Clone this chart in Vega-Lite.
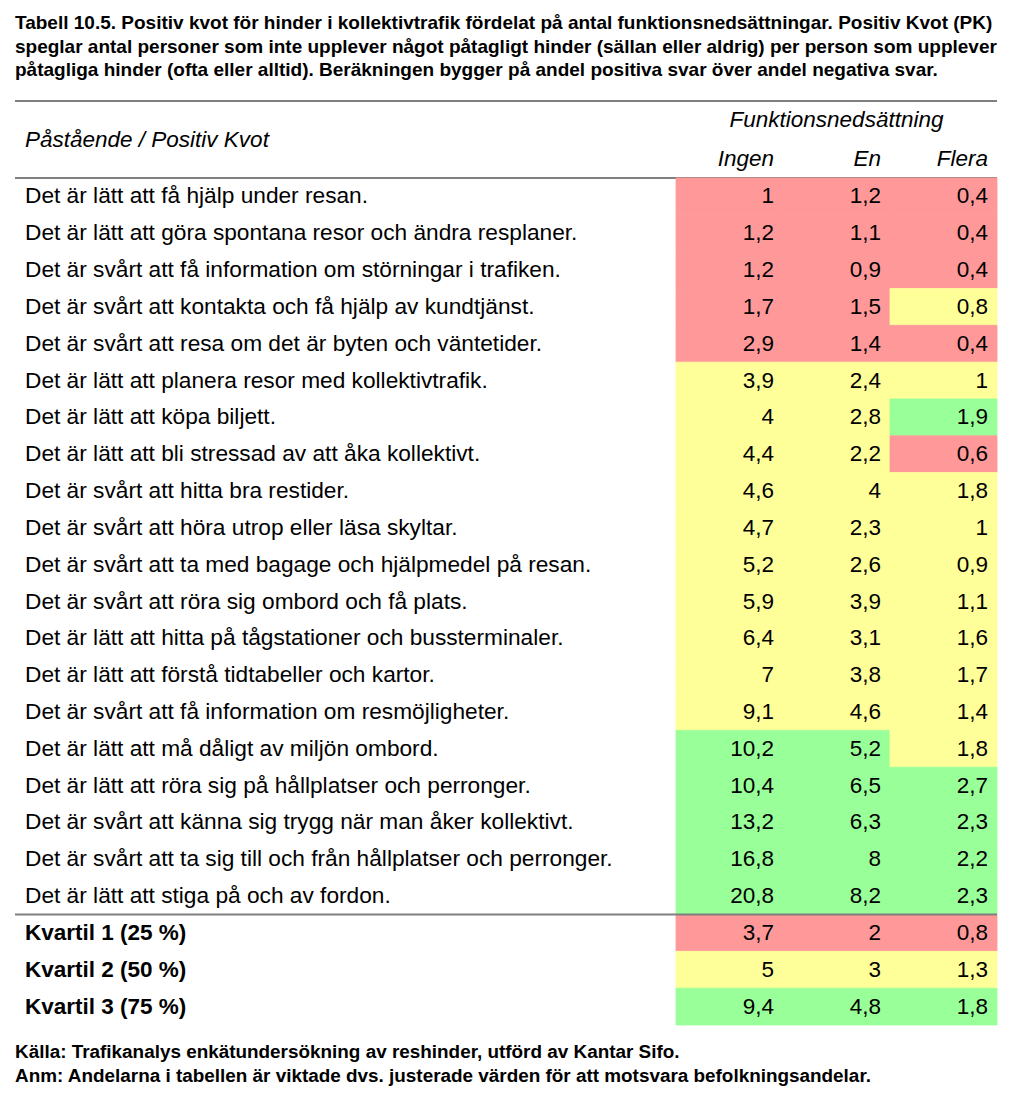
{
  "$schema": "https://vega.github.io/schema/vega-lite/v6.json",
  "width": 1024,
  "height": 1108,
  "autosize": {"type": "none"},
  "padding": 0,
  "background": "white",
  "config": {
    "view": {"stroke": null},
    "locale": {"number": {"decimal": ",", "thousands": "\u00a0", "grouping": [3], "currency": ["", " kr"]}},
    "text": {"font": "Liberation Sans", "color": "#000000"}
  },
  "datasets": {
    "rubrik": [
      {"rad": "Tabell 10.5. Positiv kvot för hinder i kollektivtrafik fördelat på antal funktionsnedsättningar. Positiv Kvot (PK)"},
      {"rad": "speglar antal personer som inte upplever något påtagligt hinder (sällan eller aldrig) per person som upplever"},
      {"rad": "påtagliga hinder (ofta eller alltid). Beräkningen bygger på andel positiva svar över andel negativa svar."}
    ],
    "fot": [
      {"rad": "Källa: Trafikanalys enkätundersökning av reshinder, utförd av Kantar Sifo."},
      {"rad": "Anm: Andelarna i tabellen är viktade dvs. justerade värden för att motsvara befolkningsandelar."}
    ],
    "huvud": [
      {"nivå": "övre", "kol": "En", "text": "Funktionsnedsättning"},
      {"nivå": "nedre", "kol": "Ingen", "text": "Ingen"},
      {"nivå": "nedre", "kol": "En", "text": "En"},
      {"nivå": "nedre", "kol": "Flera", "text": "Flera"}
    ],
    "celler": [
      {"p": "Det är lätt att få hjälp under resan.", "kol": "Ingen", "pk": 1, "klass": "låg"},
      {"p": "Det är lätt att få hjälp under resan.", "kol": "En", "pk": 1.2, "klass": "låg"},
      {"p": "Det är lätt att få hjälp under resan.", "kol": "Flera", "pk": 0.4, "klass": "låg"},
      {"p": "Det är lätt att göra spontana resor och ändra resplaner.", "kol": "Ingen", "pk": 1.2, "klass": "låg"},
      {"p": "Det är lätt att göra spontana resor och ändra resplaner.", "kol": "En", "pk": 1.1, "klass": "låg"},
      {"p": "Det är lätt att göra spontana resor och ändra resplaner.", "kol": "Flera", "pk": 0.4, "klass": "låg"},
      {"p": "Det är svårt att få information om störningar i trafiken.", "kol": "Ingen", "pk": 1.2, "klass": "låg"},
      {"p": "Det är svårt att få information om störningar i trafiken.", "kol": "En", "pk": 0.9, "klass": "låg"},
      {"p": "Det är svårt att få information om störningar i trafiken.", "kol": "Flera", "pk": 0.4, "klass": "låg"},
      {"p": "Det är svårt att kontakta och få hjälp av kundtjänst.", "kol": "Ingen", "pk": 1.7, "klass": "låg"},
      {"p": "Det är svårt att kontakta och få hjälp av kundtjänst.", "kol": "En", "pk": 1.5, "klass": "låg"},
      {"p": "Det är svårt att kontakta och få hjälp av kundtjänst.", "kol": "Flera", "pk": 0.8, "klass": "mellan"},
      {"p": "Det är svårt att resa om det är byten och väntetider.", "kol": "Ingen", "pk": 2.9, "klass": "låg"},
      {"p": "Det är svårt att resa om det är byten och väntetider.", "kol": "En", "pk": 1.4, "klass": "låg"},
      {"p": "Det är svårt att resa om det är byten och väntetider.", "kol": "Flera", "pk": 0.4, "klass": "låg"},
      {"p": "Det är lätt att planera resor med kollektivtrafik.", "kol": "Ingen", "pk": 3.9, "klass": "mellan"},
      {"p": "Det är lätt att planera resor med kollektivtrafik.", "kol": "En", "pk": 2.4, "klass": "mellan"},
      {"p": "Det är lätt att planera resor med kollektivtrafik.", "kol": "Flera", "pk": 1, "klass": "mellan"},
      {"p": "Det är lätt att köpa biljett.", "kol": "Ingen", "pk": 4, "klass": "mellan"},
      {"p": "Det är lätt att köpa biljett.", "kol": "En", "pk": 2.8, "klass": "mellan"},
      {"p": "Det är lätt att köpa biljett.", "kol": "Flera", "pk": 1.9, "klass": "hög"},
      {"p": "Det är lätt att bli stressad av att åka kollektivt.", "kol": "Ingen", "pk": 4.4, "klass": "mellan"},
      {"p": "Det är lätt att bli stressad av att åka kollektivt.", "kol": "En", "pk": 2.2, "klass": "mellan"},
      {"p": "Det är lätt att bli stressad av att åka kollektivt.", "kol": "Flera", "pk": 0.6, "klass": "låg"},
      {"p": "Det är svårt att hitta bra restider.", "kol": "Ingen", "pk": 4.6, "klass": "mellan"},
      {"p": "Det är svårt att hitta bra restider.", "kol": "En", "pk": 4, "klass": "mellan"},
      {"p": "Det är svårt att hitta bra restider.", "kol": "Flera", "pk": 1.8, "klass": "mellan"},
      {"p": "Det är svårt att höra utrop eller läsa skyltar.", "kol": "Ingen", "pk": 4.7, "klass": "mellan"},
      {"p": "Det är svårt att höra utrop eller läsa skyltar.", "kol": "En", "pk": 2.3, "klass": "mellan"},
      {"p": "Det är svårt att höra utrop eller läsa skyltar.", "kol": "Flera", "pk": 1, "klass": "mellan"},
      {"p": "Det är svårt att ta med bagage och hjälpmedel på resan.", "kol": "Ingen", "pk": 5.2, "klass": "mellan"},
      {"p": "Det är svårt att ta med bagage och hjälpmedel på resan.", "kol": "En", "pk": 2.6, "klass": "mellan"},
      {"p": "Det är svårt att ta med bagage och hjälpmedel på resan.", "kol": "Flera", "pk": 0.9, "klass": "mellan"},
      {"p": "Det är svårt att röra sig ombord och få plats.", "kol": "Ingen", "pk": 5.9, "klass": "mellan"},
      {"p": "Det är svårt att röra sig ombord och få plats.", "kol": "En", "pk": 3.9, "klass": "mellan"},
      {"p": "Det är svårt att röra sig ombord och få plats.", "kol": "Flera", "pk": 1.1, "klass": "mellan"},
      {"p": "Det är lätt att hitta på tågstationer och bussterminaler.", "kol": "Ingen", "pk": 6.4, "klass": "mellan"},
      {"p": "Det är lätt att hitta på tågstationer och bussterminaler.", "kol": "En", "pk": 3.1, "klass": "mellan"},
      {"p": "Det är lätt att hitta på tågstationer och bussterminaler.", "kol": "Flera", "pk": 1.6, "klass": "mellan"},
      {"p": "Det är lätt att förstå tidtabeller och kartor.", "kol": "Ingen", "pk": 7, "klass": "mellan"},
      {"p": "Det är lätt att förstå tidtabeller och kartor.", "kol": "En", "pk": 3.8, "klass": "mellan"},
      {"p": "Det är lätt att förstå tidtabeller och kartor.", "kol": "Flera", "pk": 1.7, "klass": "mellan"},
      {"p": "Det är svårt att få information om resmöjligheter.", "kol": "Ingen", "pk": 9.1, "klass": "mellan"},
      {"p": "Det är svårt att få information om resmöjligheter.", "kol": "En", "pk": 4.6, "klass": "mellan"},
      {"p": "Det är svårt att få information om resmöjligheter.", "kol": "Flera", "pk": 1.4, "klass": "mellan"},
      {"p": "Det är lätt att må dåligt av miljön ombord.", "kol": "Ingen", "pk": 10.2, "klass": "hög"},
      {"p": "Det är lätt att må dåligt av miljön ombord.", "kol": "En", "pk": 5.2, "klass": "hög"},
      {"p": "Det är lätt att må dåligt av miljön ombord.", "kol": "Flera", "pk": 1.8, "klass": "mellan"},
      {"p": "Det är lätt att röra sig på hållplatser och perronger.", "kol": "Ingen", "pk": 10.4, "klass": "hög"},
      {"p": "Det är lätt att röra sig på hållplatser och perronger.", "kol": "En", "pk": 6.5, "klass": "hög"},
      {"p": "Det är lätt att röra sig på hållplatser och perronger.", "kol": "Flera", "pk": 2.7, "klass": "hög"},
      {"p": "Det är svårt att känna sig trygg när man åker kollektivt.", "kol": "Ingen", "pk": 13.2, "klass": "hög"},
      {"p": "Det är svårt att känna sig trygg när man åker kollektivt.", "kol": "En", "pk": 6.3, "klass": "hög"},
      {"p": "Det är svårt att känna sig trygg när man åker kollektivt.", "kol": "Flera", "pk": 2.3, "klass": "hög"},
      {"p": "Det är svårt att ta sig till och från hållplatser och perronger.", "kol": "Ingen", "pk": 16.8, "klass": "hög"},
      {"p": "Det är svårt att ta sig till och från hållplatser och perronger.", "kol": "En", "pk": 8, "klass": "hög"},
      {"p": "Det är svårt att ta sig till och från hållplatser och perronger.", "kol": "Flera", "pk": 2.2, "klass": "hög"},
      {"p": "Det är lätt att stiga på och av fordon.", "kol": "Ingen", "pk": 20.8, "klass": "hög"},
      {"p": "Det är lätt att stiga på och av fordon.", "kol": "En", "pk": 8.2, "klass": "hög"},
      {"p": "Det är lätt att stiga på och av fordon.", "kol": "Flera", "pk": 2.3, "klass": "hög"},
      {"p": "Kvartil 1 (25 %)", "kol": "Ingen", "pk": 3.7, "klass": "låg"},
      {"p": "Kvartil 1 (25 %)", "kol": "En", "pk": 2, "klass": "låg"},
      {"p": "Kvartil 1 (25 %)", "kol": "Flera", "pk": 0.8, "klass": "låg"},
      {"p": "Kvartil 2 (50 %)", "kol": "Ingen", "pk": 5, "klass": "mellan"},
      {"p": "Kvartil 2 (50 %)", "kol": "En", "pk": 3, "klass": "mellan"},
      {"p": "Kvartil 2 (50 %)", "kol": "Flera", "pk": 1.3, "klass": "mellan"},
      {"p": "Kvartil 3 (75 %)", "kol": "Ingen", "pk": 9.4, "klass": "hög"},
      {"p": "Kvartil 3 (75 %)", "kol": "En", "pk": 4.8, "klass": "hög"},
      {"p": "Kvartil 3 (75 %)", "kol": "Flera", "pk": 1.8, "klass": "hög"}
    ]
  },
  "layer": [
    {
      "data": {"name": "rubrik"},
      "mark": {"type": "text", "align": "left", "baseline": "middle", "fontSize": 19, "fontWeight": "bold"},
      "encoding": {
        "x": {"value": 15},
        "y": {"field": "rad", "type": "nominal", "sort": null, "axis": null, "scale": {"range": [11, 82], "paddingInner": 0, "paddingOuter": 0}},
        "text": {"field": "rad"}
      }
    },
    {
      "data": {"name": "huvud"},
      "layer": [
        {
          "transform": [{"filter": "datum.nivå === 'övre'"}],
          "mark": {"type": "text", "align": "center", "baseline": "middle", "fontSize": 22.5, "fontStyle": "italic"},
          "encoding": {
            "x": {"field": "kol", "type": "nominal", "bandPosition": 0.5, "axis": null, "scale": {"domain": ["Ingen", "En", "Flera"], "range": [676, 997], "paddingInner": 0, "paddingOuter": 0}},
            "y": {"field": "nivå", "type": "nominal", "bandPosition": 0.5, "axis": null, "scale": {"domain": ["övre", "nedre"], "range": [101, 178], "paddingInner": 0, "paddingOuter": 0}},
            "text": {"field": "text"}
          }
        },
        {
          "transform": [{"filter": "datum.nivå === 'nedre'"}],
          "mark": {"type": "text", "align": "right", "baseline": "middle", "fontSize": 22.5, "fontStyle": "italic", "dx": -9},
          "encoding": {
            "x": {"field": "kol", "type": "nominal", "bandPosition": 1, "axis": null, "scale": {"domain": ["Ingen", "En", "Flera"], "range": [676, 997], "paddingInner": 0, "paddingOuter": 0}},
            "y": {"field": "nivå", "type": "nominal", "bandPosition": 0.5, "axis": null, "scale": {"domain": ["övre", "nedre"], "range": [101, 178], "paddingInner": 0, "paddingOuter": 0}},
            "text": {"field": "text"}
          }
        },
        {
          "data": {"values": [{"text": "Påstående / Positiv Kvot"}]},
          "mark": {"type": "text", "align": "left", "baseline": "middle", "fontSize": 22.5, "fontStyle": "italic"},
          "encoding": {
            "x": {"value": 25},
            "y": {"datum": "övre", "type": "nominal", "bandPosition": 1, "axis": null, "scale": {"domain": ["övre", "nedre"], "range": [101, 178], "paddingInner": 0, "paddingOuter": 0}},
            "text": {"field": "text"}
          }
        },
        {
          "data": {"values": [{"linje": "övre"}]},
          "mark": {"type": "rule", "color": "#000000", "strokeWidth": 1},
          "encoding": {
            "x": {"value": 15},
            "x2": {"value": 997},
            "y": {"datum": "övre", "type": "nominal", "bandPosition": 0, "axis": null, "scale": {"domain": ["övre", "nedre"], "range": [101, 178], "paddingInner": 0, "paddingOuter": 0}}
          }
        },
        {
          "data": {"values": [{"linje": "nedre"}]},
          "mark": {"type": "rule", "color": "#000000", "strokeWidth": 1},
          "encoding": {
            "x": {"value": 15},
            "x2": {"value": 997},
            "y": {"datum": "nedre", "type": "nominal", "bandPosition": 1, "axis": null, "scale": {"domain": ["övre", "nedre"], "range": [101, 178], "paddingInner": 0, "paddingOuter": 0}}
          }
        }
      ]
    },
    {
      "data": {"name": "celler"},
      "encoding": {
        "y": {
          "field": "p", "type": "nominal", "axis": null,
          "scale": {
            "domain": [
              "Det är lätt att få hjälp under resan.",
              "Det är lätt att göra spontana resor och ändra resplaner.",
              "Det är svårt att få information om störningar i trafiken.",
              "Det är svårt att kontakta och få hjälp av kundtjänst.",
              "Det är svårt att resa om det är byten och väntetider.",
              "Det är lätt att planera resor med kollektivtrafik.",
              "Det är lätt att köpa biljett.",
              "Det är lätt att bli stressad av att åka kollektivt.",
              "Det är svårt att hitta bra restider.",
              "Det är svårt att höra utrop eller läsa skyltar.",
              "Det är svårt att ta med bagage och hjälpmedel på resan.",
              "Det är svårt att röra sig ombord och få plats.",
              "Det är lätt att hitta på tågstationer och bussterminaler.",
              "Det är lätt att förstå tidtabeller och kartor.",
              "Det är svårt att få information om resmöjligheter.",
              "Det är lätt att må dåligt av miljön ombord.",
              "Det är lätt att röra sig på hållplatser och perronger.",
              "Det är svårt att känna sig trygg när man åker kollektivt.",
              "Det är svårt att ta sig till och från hållplatser och perronger.",
              "Det är lätt att stiga på och av fordon.",
              "Kvartil 1 (25 %)",
              "Kvartil 2 (50 %)",
              "Kvartil 3 (75 %)"
            ],
            "range": [178, 1025], "paddingInner": 0, "paddingOuter": 0
          }
        }
      },
      "layer": [
        {
          "mark": {"type": "rect", "strokeWidth": 0.8},
          "encoding": {
            "x": {"field": "kol", "type": "nominal", "axis": null, "scale": {"domain": ["Ingen", "En", "Flera"], "range": [676, 997], "paddingInner": 0, "paddingOuter": 0}},
            "color": {"field": "klass", "type": "nominal", "legend": null, "scale": {"domain": ["låg", "mellan", "hög"], "range": ["#FF9999", "#FFFF99", "#99FF99"]}},
            "stroke": {"field": "klass", "type": "nominal", "legend": null, "scale": {"domain": ["låg", "mellan", "hög"], "range": ["#FF9999", "#FFFF99", "#99FF99"]}}
          }
        },
        {
          "mark": {"type": "text", "align": "right", "baseline": "middle", "fontSize": 22.5, "dx": -9},
          "encoding": {
            "x": {"field": "kol", "type": "nominal", "bandPosition": 1, "axis": null, "scale": {"domain": ["Ingen", "En", "Flera"], "range": [676, 997], "paddingInner": 0, "paddingOuter": 0}},
            "text": {"field": "pk", "type": "quantitative", "format": ".1~f"}
          }
        },
        {
          "transform": [{"filter": "datum.kol === 'Ingen' && indexof(datum.p, 'Kvartil') !== 0"}],
          "mark": {"type": "text", "align": "left", "baseline": "middle", "fontSize": 22.7},
          "encoding": {
            "x": {"value": 25},
            "text": {"field": "p"}
          }
        },
        {
          "transform": [{"filter": "datum.kol === 'Ingen' && indexof(datum.p, 'Kvartil') === 0"}],
          "mark": {"type": "text", "align": "left", "baseline": "middle", "fontSize": 22.5, "fontWeight": "bold"},
          "encoding": {
            "x": {"value": 25},
            "text": {"field": "p"}
          }
        },
        {
          "data": {"values": [{"linje": "kvartil"}]},
          "mark": {"type": "rule", "color": "#7f7f7f", "strokeWidth": 2},
          "encoding": {
            "x": {"value": 15},
            "x2": {"value": 997},
            "y": {"datum": "Kvartil 1 (25 %)", "type": "nominal", "bandPosition": 0}
          }
        }
      ]
    },
    {
      "data": {"name": "fot"},
      "mark": {"type": "text", "align": "left", "baseline": "middle", "fontSize": 18.9, "fontWeight": "bold"},
      "encoding": {
        "x": {"value": 15},
        "y": {"field": "rad", "type": "nominal", "sort": null, "axis": null, "scale": {"range": [1040, 1088], "paddingInner": 0, "paddingOuter": 0}},
        "text": {"field": "rad"}
      }
    }
  ],
  "resolve": {"scale": {"y": "independent"}}
}
